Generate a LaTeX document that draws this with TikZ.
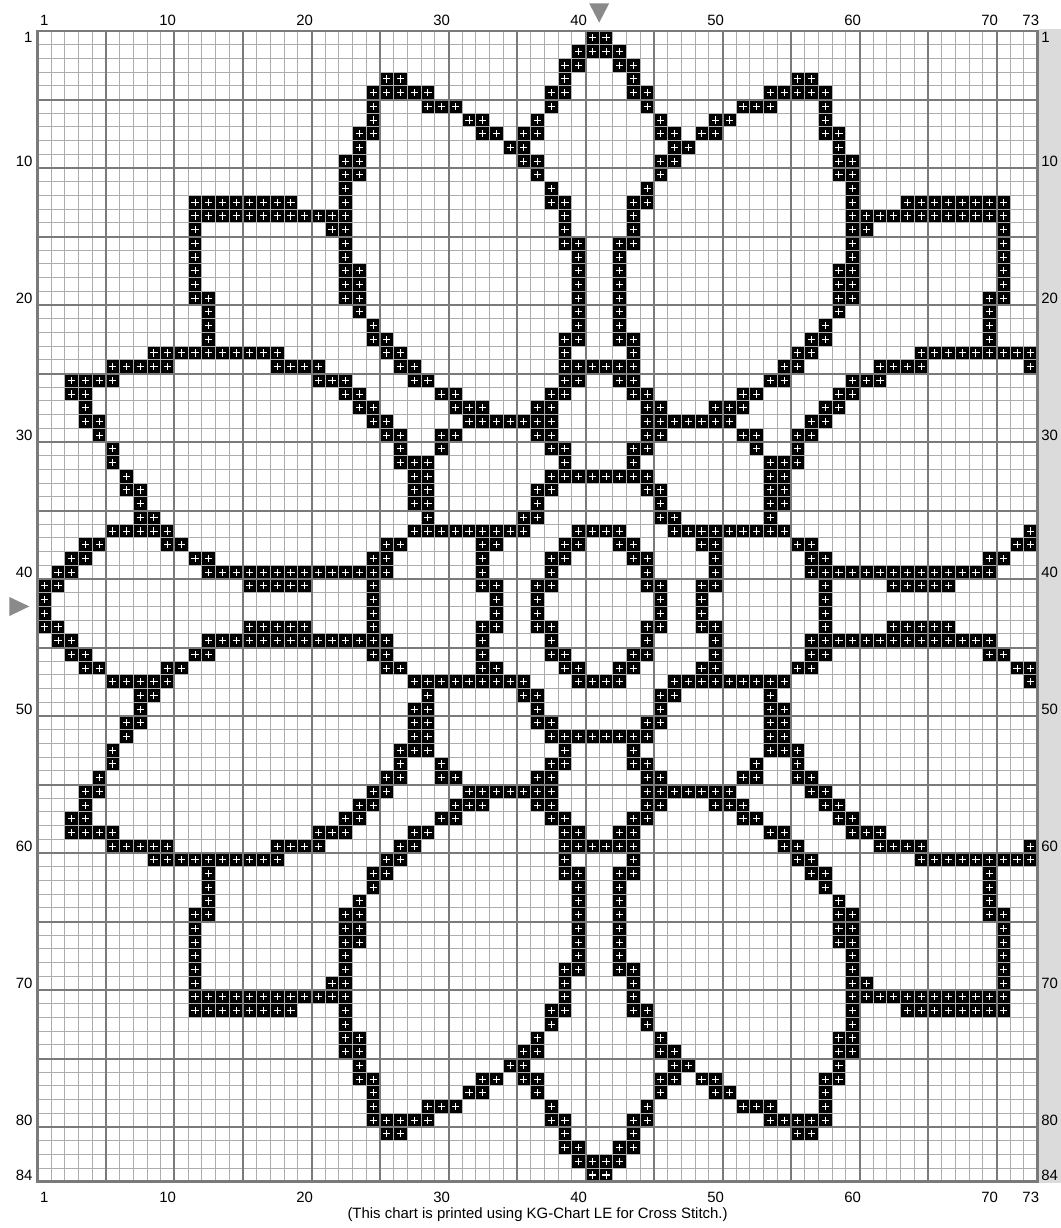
\documentclass[tikz,border=0pt]{standalone}
\usepackage{fontspec}
\setmainfont{Liberation Sans}
\newcommand\stitch[2]{%
\fill[black] (#1-1,#2-1) rectangle (#1,#2);
\draw[stitchplus] (#1-0.5,#2-0.76)--(#1-0.5,#2-0.24) (#1-0.76,#2-0.5)--(#1-0.24,#2-0.5);}
\begin{document}
\begin{tikzpicture}[x=10.275pt,y=-10.275pt,
stitchplus/.style={white,line width=0.8pt},
gridthin/.style={draw=black!32,line width=0.8pt},
gridthick/.style={draw=black!52,line width=1.5pt},
gridframe/.style={draw=black!52,line width=2.2pt},
marker/.style={fill=black!46},
lbl/.style={font=\fontsize{11.2}{13}\selectfont,inner sep=0pt}]
\useasboundingbox (-2.737,-2.263) rectangle (74.708,87.372);
\fill[white] (-2.737,-2.263) rectangle (74.708,87.372);
\fill[black!14] (73.1,-0.13) rectangle (74.708,84.1);
\foreach \r/\cols in {1/{41},2/{40,41},3/{39,40},4/{26,27,39},
5/{25,26,27,28,29,38,39},6/{25,29,30,31,38},7/{25,32,33,37},
8/{24,25,33,34,36,37},9/{24,35,36},10/{23,24,36,37},11/{23,24,37},12/{23,38},
13/{12,13,14,15,16,17,18,19,23,38,39},
14/{12,13,14,15,16,17,18,19,20,21,22,23,39},
15/{12,22,23,39},16/{12,23,39,40},17/{12,23,40},18/{12,23,24,40},19/{12,23,24,40},
20/{12,13,23,24,40},21/{13,24,40},22/{13,25,40},23/{13,25,26,39,40},
24/{9,10,11,12,13,14,15,16,17,18,26,27,39},
25/{6,7,8,9,10,18,19,20,21,27,28,39,40,41},
26/{3,4,5,6,21,22,23,28,29,39,40},
27/{3,4,23,24,30,31,38,39},
28/{4,24,25,31,32,33,37,38},
29/{4,5,25,26,32,33,34,35,36,37,38},
30/{5,26,27,30,31,37,38},31/{6,27,30,38,39},32/{6,27,28,29,39},
33/{7,28,29,38,39,40,41},34/{7,8,28,29,37,38},35/{8,28,29,37},36/{8,9,29,36,37},
37/{6,7,8,9,10,28,29,30,31,32,33,34,35,36,40,41},
38/{4,5,10,11,26,27,33,34,39,40},
39/{3,4,12,13,25,26,33,38,39},
40/{2,3,13,14,15,16,17,18,19,20,21,22,23,24,25,26,33,38},
41/{1,2,16,17,18,19,20,25,33,34,37,38},
42/{1,25,34,37}}{
\foreach \c in \cols {
\pgfmathtruncatemacro\mirc{83-\c}
\pgfmathtruncatemacro\mirr{85-\r}
\stitch{\c}{\r}\stitch{\c}{\mirr}
\ifnum\mirc<74 \stitch{\mirc}{\r}\stitch{\mirc}{\mirr}\fi
}}
\foreach \i in {0,...,73}
\draw[gridthin] (\i,0)--(\i,84);
\foreach \j in {0,...,84}
\draw[gridthin] (0,\j)--(73,\j);
\foreach \i in {5,10,...,70}
\draw[gridthick] (\i,0)--(\i,84);
\foreach \j in {5,10,...,80}
\draw[gridthick] (0,\j)--(73,\j);
\draw[gridframe] (0,0) rectangle (73,84);
\fill[marker] (40.27,-2.02)--(41.73,-2.02)--(41,-0.61)--cycle;
\fill[marker] (-2.06,41.31)--(-2.06,42.71)--(-0.6,42)--cycle;
\foreach \n in {1,10,20,30,40,50,60,70,73}{
\node[lbl] (ctop\n) at (\n-0.5,-0.75) {\n};
\node[lbl] (cbot\n) at (\n-0.5,85.13) {\n};}
\foreach \n in {1,10,20,30,40,50,60,70,80,84}{
\node[lbl,anchor=east] (rleft\n) at (-0.35,\n-0.5) {\n};
\node[lbl,anchor=west] (rright\n) at (73.25,\n-0.5) {\n};}
\node[lbl] (credit) at (36.5,86.42) {(This chart is printed using KG-Chart LE for Cross Stitch.)};
\end{tikzpicture}
\end{document}
